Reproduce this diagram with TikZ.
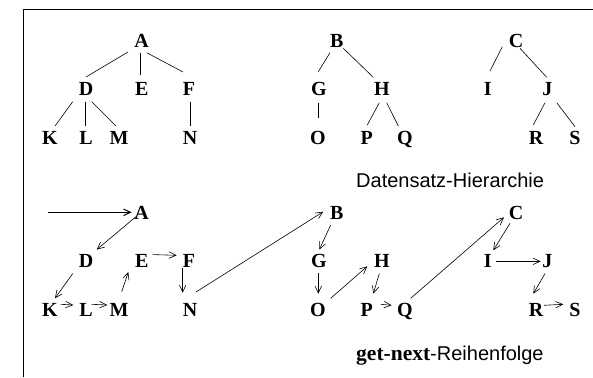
\documentclass[tikz,border=0pt]{standalone}
\usepackage{fontspec}
\setmainfont{Liberation Serif}
\newfontfamily\capfont{Liberation Sans}
\usetikzlibrary{arrows.meta}

% connector between two named nodes, each end shifted from the node centre
\newcommand\lnk[5][tree]{\draw[#1] ([shift={(#3)}]#2.center) -- ([shift={(#5)}]#4.center);}

\begin{document}
\begin{tikzpicture}[x=1pt,y=-1pt,
  letter/.style={font=\fontsize{20}{20}\selectfont\bfseries, inner sep=0pt,
                 text height=13.2pt, text depth=0pt, anchor=center},
  capt/.style={font=\capfont\fontsize{20}{20}\selectfont, inner sep=0pt, anchor=base west},
  tree/.style={line width=0.6pt},
  flow/.style={line width=0.6pt, -{Straight Barb[length=7pt,width=6.5pt]}},
  frame/.style={line width=1pt}]
\useasboundingbox (0,0) rectangle (593,377);

% frame
\draw[frame] (23.3,377) -- (23.3,10) -- (593,10);

% the letters, once in the hierarchy (t) and once in the traversal (b)
\foreach \n/\x/\y in {A/141.7/40.7, D/86/89, E/141.7/89, F/189/89,
                      K/50/138, L/86/138, M/119/138, N/190/138,
                      B/336.7/40.7, G/319/89, H/382/89,
                      O/318/138, P/366.7/138, Q/405/138,
                      C/516/40.7, I/487.7/89, J/547.3/89, R/536/138, S/575/138}{
  \node[letter] (t\n) at (\x,\y) {\n};
  \node[letter] (b\n) at (\x,\y+172) {\n};
}

% hierarchy edges
\lnk{tA}{-13.7,11.3}{tD}{0,-12}
\lnk{tA}{-1,12.3}{tE}{-1,-14}
\lnk{tA}{5,12}{tF}{-6,-17}
\lnk{tD}{-13.3,12.7}{tK}{5,-12}
\lnk{tD}{-0.7,12.7}{tL}{-0.7,-12}
\lnk{tD}{5.7,12.7}{tM}{-3,-12}
\lnk{tF}{1,13}{tN}{0,-12}
\lnk{tB}{-6.7,12}{tG}{-0.7,-17.3}
\lnk{tB}{6.6,7.6}{tH}{-8.7,-11.7}
\lnk{tG}{-0.7,13.7}{tO}{0.3,-19.7}
\lnk{tH}{-2.7,13.7}{tP}{0.6,-13}
\lnk{tH}{4.7,13.7}{tQ}{-6.7,-12}
\lnk{tC}{-13.7,6}{tI}{2.3,-18}
\lnk{tC}{4,7.6}{tJ}{-0.6,-11.7}
\lnk{tJ}{-2.3,13.7}{tR}{-2.7,-13}
\lnk{tJ}{9.4,13.7}{tS}{0,-11.3}

% get-next order
\coordinate (start) at (48.3,212.3);
\draw[flow, line width=1pt] (start) -- ([shift={(-10,-0.4)}]bA.center);
\lnk[flow]{bA}{-5.7,4}{bD}{10.7,-11.4}
\lnk[flow]{bD}{-13.3,12.6}{bK}{5,-11.7}
\lnk[flow]{bK}{10.7,-5.7}{bL}{-12.7,-5}
\lnk[flow]{bL}{5.7,-5.7}{bM}{-11.7,-5}
\lnk[flow]{bM}{2.7,-18.3}{bE}{-13.4,11}
\lnk[flow]{bE}{11,-6.4}{bF}{-12.3,-5.7}
\lnk[flow]{bF}{-6.3,6.6}{bN}{-7.3,-17.3}
\lnk[flow]{bN}{6,-18}{bB}{-13.4,-1}
\lnk[flow]{bB}{-6,12.3}{bG}{0.3,-11.4}
\lnk[flow]{bG}{-0.7,12}{bO}{0.3,-16.3}
\lnk[flow]{bO}{12.7,-11.7}{bH}{-14.7,5.3}
\lnk[flow]{bH}{-2.7,12.6}{bP}{6.6,-16.3}
\lnk[flow]{bP}{14,-5.7}{bQ}{-13.3,-4.7}
\lnk[flow]{bQ}{5.7,-11.7}{bC}{-12,4.6}
\lnk[flow]{bC}{-6,10.6}{bI}{5.6,-10.7}
\lnk[flow]{bI}{8.3,0.3}{bJ}{-6.6,0.3}
\lnk[flow]{bJ}{-2.3,12.6}{bR}{-2.7,-16.3}
\lnk[flow]{bR}{8,-4.7}{bS}{-11.7,-5.7}

% captions
\node[capt] (cap1) at (356,187.7) {Datensatz-Hierarchie};
\node[capt] (cap2) at (356,360) {{\rmfamily\bfseries\fontsize{21.5}{21.5}\selectfont get-next}-Reihenfolge};
\end{tikzpicture}
\end{document}
